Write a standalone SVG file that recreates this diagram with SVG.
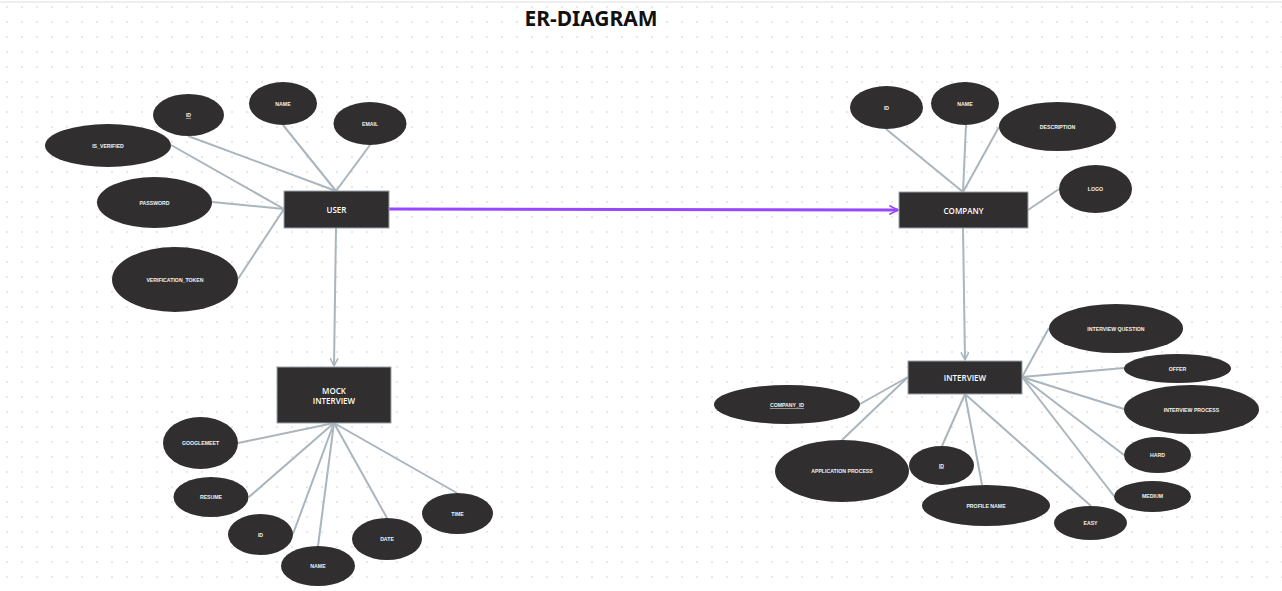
<svg xmlns="http://www.w3.org/2000/svg" width="1282" height="591" viewBox="0 0 1282 591">
<defs>
<pattern id="dots" x="0" y="0" width="15" height="15" patternUnits="userSpaceOnUse">
<circle cx="7" cy="7" r="1" fill="#e0e0e0"/>
</pattern>
<marker id="ag" viewBox="0 0 10 10" refX="9" refY="5" markerWidth="9" markerHeight="9" markerUnits="userSpaceOnUse" orient="auto">
<path d="M1,1 L9,5 L1,9" fill="none" stroke="#aab5bd" stroke-width="1.8" stroke-linecap="round" stroke-linejoin="round"/>
</marker>
<marker id="ap" viewBox="0 0 10 10" refX="9" refY="5" markerWidth="10" markerHeight="10" markerUnits="userSpaceOnUse" orient="auto">
<path d="M1,1 L9,5 L1,9" fill="none" stroke="#9747ff" stroke-width="1.8" stroke-linecap="round" stroke-linejoin="round"/>
</marker>
</defs>
<style>
.attr{fill:#302e2f;}
.ent{fill:#302e2f;stroke:#9aa4ab;stroke-width:1;}
.lab{font-family:"Liberation Sans",Arial,sans-serif;font-size:5.2px;font-weight:bold;fill:#f3f3f3;text-anchor:middle;dominant-baseline:central;}
.u{text-decoration:underline;}
.elab{font-family:"Open Sans","Liberation Sans",sans-serif;font-size:8px;font-weight:600;fill:#ffffff;text-anchor:middle;dominant-baseline:central;}
.ln{stroke:#aab5bd;stroke-width:2;fill:none;}
</style>
<rect width="1282" height="591" fill="#ffffff"/>
<rect width="1282" height="591" fill="url(#dots)"/>
<line x1="0" y1="2" x2="1282" y2="2" stroke="#dddddd" stroke-width="1"/>
<text x="591" y="26" font-family="'Noto Sans',sans-serif" font-size="21" font-weight="bold" text-anchor="middle" fill="#111">ER-DIAGRAM</text>

<g id="connectors">
<line class="ln" x1="188" y1="136" x2="336" y2="191"/>
<line class="ln" x1="283" y1="125" x2="336" y2="191"/>
<line class="ln" x1="370" y1="145" x2="336" y2="191"/>
<line class="ln" x1="171" y1="145" x2="284" y2="209"/>
<line class="ln" x1="212" y1="202" x2="284" y2="209"/>
<line class="ln" x1="238" y1="279" x2="284" y2="209"/>
<line class="ln" x1="336" y1="228" x2="334" y2="366" marker-end="url(#ag)"/>
<line x1="389" y1="209" x2="898" y2="210" stroke="#9747ff" stroke-width="3" marker-end="url(#ap)"/>
<line class="ln" x1="334" y1="423" x2="238" y2="443"/>
<line class="ln" x1="334" y1="423" x2="249" y2="497"/>
<line class="ln" x1="334" y1="423" x2="293" y2="534"/>
<line class="ln" x1="334" y1="423" x2="318" y2="546"/>
<line class="ln" x1="334" y1="423" x2="387" y2="518"/>
<line class="ln" x1="334" y1="423" x2="457" y2="493"/>
<line class="ln" x1="886" y1="129" x2="963" y2="192"/>
<line class="ln" x1="966" y1="125" x2="963" y2="192"/>
<line class="ln" x1="999" y1="127" x2="963" y2="192"/>
<line class="ln" x1="1059" y1="189" x2="1028" y2="210"/>
<line class="ln" x1="963" y1="228" x2="965" y2="360" marker-end="url(#ag)"/>
<line class="ln" x1="908" y1="377" x2="860" y2="404"/>
<line class="ln" x1="908" y1="377" x2="842" y2="440"/>
<line class="ln" x1="965" y1="394" x2="942" y2="446"/>
<line class="ln" x1="965" y1="394" x2="982" y2="485"/>
<line class="ln" x1="965" y1="394" x2="1091" y2="506"/>
<line class="ln" x1="1022" y1="377" x2="1049" y2="328"/>
<line class="ln" x1="1022" y1="377" x2="1124" y2="368"/>
<line class="ln" x1="1022" y1="377" x2="1124" y2="409"/>
<line class="ln" x1="1022" y1="377" x2="1124" y2="455"/>
<line class="ln" x1="1022" y1="377" x2="1114" y2="496"/>
</g>

<g id="user"><rect class="ent" x="284" y="191" width="105" height="37"/><text class="elab" x="336.5" y="209.5">USER</text></g>
<g id="user-id"><ellipse class="attr" cx="188.5" cy="115" rx="35.5" ry="21"/><text class="lab u" x="188.5" y="115">ID</text></g>
<g id="user-name"><ellipse class="attr" cx="283" cy="103.5" rx="34" ry="21.5"/><text class="lab" x="283" y="103.5">NAME</text></g>
<g id="user-email"><ellipse class="attr" cx="370" cy="123.5" rx="36.5" ry="21.5"/><text class="lab" x="370" y="123.5">EMAIL</text></g>
<g id="user-is-verified"><ellipse class="attr" cx="108" cy="145.5" rx="63" ry="21.5"/><text class="lab" x="108" y="145.5">IS_VERIFIED</text></g>
<g id="user-password"><ellipse class="attr" cx="154.5" cy="202.5" rx="57.5" ry="25.5"/><text class="lab" x="154.5" y="202.5">PASSWORD</text></g>
<g id="user-verification-token"><ellipse class="attr" cx="175" cy="279.5" rx="63" ry="32.5"/><text class="lab" x="175" y="279.5">VERIFICATION_TOKEN</text></g>

<g id="mock-interview"><rect class="ent" x="277" y="367" width="114" height="56"/><text class="elab" x="334" y="390">MOCK</text><text class="elab" x="334" y="400.5">INTERVIEW</text></g>
<g id="mock-googlemeet"><ellipse class="attr" cx="200.5" cy="443" rx="37.5" ry="26"/><text class="lab" x="200.5" y="443">GOOGLEMEET</text></g>
<g id="mock-resume"><ellipse class="attr" cx="211" cy="497" rx="37.5" ry="20"/><text class="lab" x="211" y="497">RESUME</text></g>
<g id="mock-id"><ellipse class="attr" cx="260.5" cy="534.5" rx="32.5" ry="20.5"/><text class="lab" x="260.5" y="535">ID</text></g>
<g id="mock-name"><ellipse class="attr" cx="318" cy="566" rx="37" ry="20"/><text class="lab" x="318" y="566">NAME</text></g>
<g id="mock-date"><ellipse class="attr" cx="387" cy="539" rx="35" ry="21"/><text class="lab" x="387" y="539">DATE</text></g>
<g id="mock-time"><ellipse class="attr" cx="457.5" cy="513.5" rx="35.5" ry="20.5"/><text class="lab" x="457.5" y="514">TIME</text></g>

<g id="company"><rect class="ent" x="899" y="192" width="129" height="36"/><text class="elab" x="963.5" y="210.5">COMPANY</text></g>
<g id="company-id"><ellipse class="attr" cx="886.5" cy="107.5" rx="36.5" ry="21.5"/><text class="lab" x="886.5" y="108">ID</text></g>
<g id="company-name"><ellipse class="attr" cx="965" cy="103.5" rx="34" ry="21.5"/><text class="lab" x="965" y="103.5">NAME</text></g>
<g id="company-description"><ellipse class="attr" cx="1057.5" cy="126.5" rx="58.5" ry="24.5"/><text class="lab" x="1057.5" y="127">DESCRIPTION</text></g>
<g id="company-logo"><ellipse class="attr" cx="1095.5" cy="189" rx="36.5" ry="24"/><text class="lab" x="1095.5" y="189">LOGO</text></g>

<g id="interview"><rect class="ent" x="908" y="361" width="114" height="33"/><text class="elab" x="965" y="377.5">INTERVIEW</text></g>
<g id="interview-company-id"><ellipse class="attr" cx="787" cy="404.5" rx="73" ry="19.5"/><text class="lab u" x="787" y="405">COMPANY_ID</text></g>
<g id="interview-application-process"><ellipse class="attr" cx="842" cy="471" rx="67" ry="31"/><text class="lab" x="842" y="471">APPLICATION PROCESS</text></g>
<g id="interview-id"><ellipse class="attr" cx="941.5" cy="465.5" rx="32.5" ry="19.5"/><text class="lab u" x="941.5" y="465.5">ID</text></g>
<g id="interview-profile-name"><ellipse class="attr" cx="986" cy="505.5" rx="64" ry="20.5"/><text class="lab" x="986" y="505.5">PROFILE NAME</text></g>
<g id="interview-question"><ellipse class="attr" cx="1116" cy="328.5" rx="67" ry="24.5"/><text class="lab" x="1116" y="329">INTERVIEW QUESTION</text></g>
<g id="interview-offer"><ellipse class="attr" cx="1177.5" cy="368.5" rx="53.5" ry="14.5"/><text class="lab" x="1177.5" y="368.5">OFFER</text></g>
<g id="interview-process"><ellipse class="attr" cx="1191.5" cy="409.5" rx="67.5" ry="24.5"/><text class="lab" x="1191.5" y="410">INTERVIEW PROCESS</text></g>
<g id="interview-hard"><ellipse class="attr" cx="1157.5" cy="455" rx="33.5" ry="18"/><text class="lab" x="1157.5" y="455">HARD</text></g>
<g id="interview-medium"><ellipse class="attr" cx="1152.5" cy="496.5" rx="38.5" ry="15.5"/><text class="lab" x="1152.5" y="496">MEDIUM</text></g>
<g id="interview-easy"><ellipse class="attr" cx="1090.5" cy="523" rx="36.5" ry="17"/><text class="lab" x="1090.5" y="523">EASY</text></g>
</svg>
